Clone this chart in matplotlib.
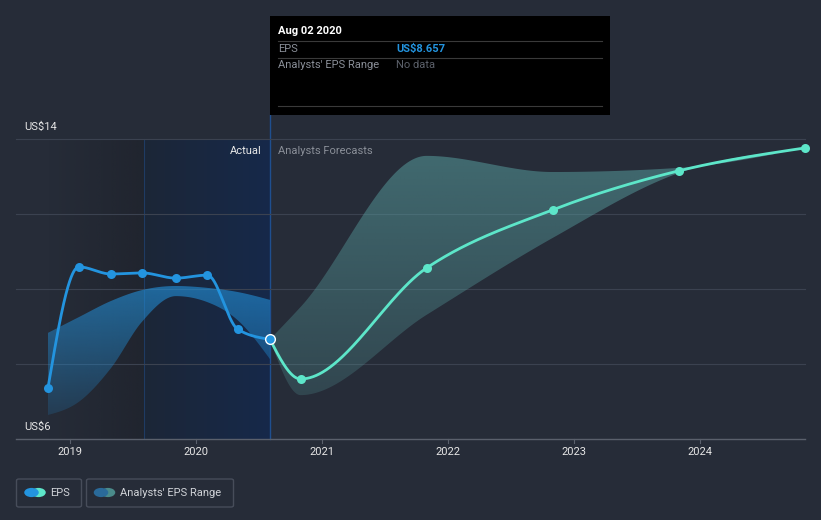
import numpy as np
import matplotlib
matplotlib.use("Agg")
import matplotlib.pyplot as plt
from matplotlib.patches import Rectangle, FancyBboxPatch, Circle
from matplotlib.colors import to_rgb

plt.rcParams['font.family'] = ['Roboto', 'DejaVu Sans']

# ---------------- data ----------------
actual_x = [2018.825, 2019.07, 2019.325, 2019.57, 2019.84, 2020.09, 2020.33, 2020.587]
actual_eps = [7.36, 10.59, 10.40, 10.43, 10.29, 10.37, 8.93, 8.657]
actual_low = [6.64, 6.99, 7.89, 9.12, 9.81, 9.65, 9.17, 8.13]
actual_high = [8.83, 9.25, 9.68, 9.97, 10.08, 10.03, 9.92, 9.71]

fc_x = [2020.587, 2020.83, 2021.83, 2022.83, 2023.83, 2024.83]
fc_eps = [8.657, 7.60, 10.56, 12.11, 13.15, 13.76]
fc_low = [8.657, 7.17, 9.31, 11.36, 13.09, 13.76]
fc_high = [8.657, 9.52, 13.55, 13.12, 13.23, 13.76]

year_ticks = [2019, 2020, 2021, 2022, 2023, 2024]
y_grid = [6, 8, 10, 12, 14]
y_labels = {14: "US$14", 6: "US$6"}

# ---------------- colours ----------------
BG = '#262c38'
BLUE = '#2394df'
TEAL = '#5de6c9'
GRID = '#3b4250'

W, H = 821, 520
fig = plt.figure(figsize=(W / 100, H / 100), dpi=100, facecolor=BG)
ax = fig.add_axes([0, 0, 1, 1])
ax.set_facecolor(BG)
ax.axis('off')

def px2x(px):
    return 2019 + (px - 70) / 126.0

def py2y(py):
    return 14 - (py - 139) / 37.5

ax.set_xlim(px2x(0), px2x(W))
ax.set_ylim(py2y(H), py2y(0))

def fx(px):
    return px / W

def fy(py):
    return 1 - py / H

def monotone(x, y, n=200):
    x = np.asarray(x, float); y = np.asarray(y, float)
    h = np.diff(x); d = np.diff(y) / h
    m = np.zeros(len(x))
    for k in range(1, len(x) - 1):
        if d[k - 1] * d[k] <= 0:
            m[k] = 0
        else:
            s = (d[k - 1] * h[k] + d[k] * h[k - 1]) / (h[k - 1] + h[k])
            m[k] = (np.sign(d[k - 1]) + np.sign(d[k])) * min(abs(d[k - 1]), abs(d[k]), 0.5 * abs(s))
    m[0] = (3 * d[0] - m[1]) / 2 if len(x) > 2 else d[0]
    m[-1] = (3 * d[-1] - m[-2]) / 2 if len(x) > 2 else d[-1]
    xs, ys = [], []
    for k in range(len(x) - 1):
        t = np.linspace(0, 1, n, endpoint=(k == len(x) - 2))
        h00 = 2 * t**3 - 3 * t**2 + 1
        h10 = t**3 - 2 * t**2 + t
        h01 = -2 * t**3 + 3 * t**2
        h11 = t**3 - t**2
        xs.append(x[k] + t * h[k])
        ys.append(h00 * y[k] + h10 * h[k] * m[k] + h01 * y[k + 1] + h11 * h[k] * m[k + 1])
    return np.concatenate(xs), np.concatenate(ys)

top_y = 14
bot_y = 6
last_x = actual_x[-1]
year_before = last_x - 1.0

# ---------------- background shading ----------------
grad = np.zeros((2, 256, 4))
dark = to_rgb('#1c1f27')
grad[..., 0] = dark[0]; grad[..., 1] = dark[1]; grad[..., 2] = dark[2]
grad[..., 3] = np.linspace(0.0, 0.55, 256)[None, :]
ax.imshow(grad, extent=[actual_x[0], year_before, bot_y, top_y], aspect='auto',
          interpolation='bilinear', zorder=0.5)
c1 = np.array(to_rgb('#1c2637')); c2 = np.array(to_rgb('#16294a'))
t = np.linspace(0, 1, 256)[:, None]
cols = c1 * (1 - t) + c2 * t
bimg = np.ones((2, 256, 4))
bimg[..., :3] = cols[None, :, :]
ax.imshow(bimg, extent=[year_before, last_x, bot_y, top_y], aspect='auto',
          interpolation='bilinear', zorder=0.6)
ax.plot([year_before, year_before], [bot_y, top_y], color='#1f3b63', lw=0.8, zorder=0.7)
ax.plot([last_x, last_x], [bot_y, py2y(115)], color='#1f4f8f', lw=1.0, zorder=0.7)

# ---------------- grid ----------------
gx0, gx1 = px2x(16), px2x(805)
for g in y_grid[1:]:
    ax.plot([gx0, gx1], [g, g], color=GRID, lw=0.8, zorder=1)
ax.plot([gx0, gx1], [6, 6], color='#5a606c', lw=1.0, zorder=1)
for yr in year_ticks:
    ax.plot([yr, yr], [6, py2y(443)], color='#5a606c', lw=0.8, zorder=1)
    ax.text(yr, py2y(452), str(yr), color='#e6e6e6', fontsize=8, ha='center', va='center')
for v, s in y_labels.items():
    ax.text(px2x(24), v + 12 / 37.5, s, color='#e6e6e6', fontsize=8, ha='left', va='center')

# ---------------- gradient bands ----------------
def grad_band(xs, lo, hi, rgb, a_top, a_bot, ytop, ybot, z):
    bx, blo = monotone(xs, lo)
    _, bhi = monotone(xs, hi)
    poly = ax.fill_between(bx, blo, bhi, color='none', lw=0, zorder=z)
    img = np.zeros((256, 2, 4))
    c = to_rgb(rgb)
    img[..., 0] = c[0]; img[..., 1] = c[1]; img[..., 2] = c[2]
    img[..., 3] = np.linspace(a_top, a_bot, 256)[:, None]
    im = ax.imshow(img, extent=[min(xs), max(xs), ybot, ytop], aspect='auto',
                   interpolation='bilinear', zorder=z, origin='upper')
    im.set_clip_path(poly.get_paths()[0], transform=ax.transData)

grad_band(actual_x, actual_low, actual_high, BLUE, 0.62, 0.15, 10.2, 6.5, 2)
grad_band(fc_x, fc_low, fc_high, '#5aa3a3', 0.52, 0.22, 13.6, 7.1, 2)

# ---------------- EPS lines ----------------
lx, ly = monotone(actual_x, actual_eps)
ax.plot(lx, ly, color=BLUE, lw=2.0, zorder=3, solid_capstyle='round')
ax.plot(actual_x[:-1], actual_eps[:-1], 'o', color=BLUE, ms=6.5, zorder=4, mec='none')
fx_, fy_ = monotone(fc_x, fc_eps)
ax.plot(fx_, fy_, color=TEAL, lw=2.0, zorder=3, solid_capstyle='round')
ax.plot(fc_x[1:], fc_eps[1:], 'o', color=TEAL, ms=6.5, zorder=4, mec='none')
ax.plot([actual_x[-1]], [actual_eps[-1]], 'o', color=BLUE, ms=7, mec='white', mew=1.0, zorder=5)

# ---------------- labels ----------------
ax.text(px2x(262), py2y(151), 'Actual', color='#e8e8e8', fontsize=8, ha='right', va='center')
ax.text(px2x(278), py2y(151), 'Analysts Forecasts', color='#8a8f98', fontsize=8, ha='left', va='center')

# ---------------- tooltip ----------------
fig.patches.append(Rectangle((fx(270), fy(115)), fx(340), 99 / H, transform=fig.transFigure,
                             facecolor='black', edgecolor='none', zorder=10))
for sy in [40.5, 57.5, 106.5]:
    fig.add_artist(plt.Line2D([fx(278), fx(602)], [fy(sy), fy(sy)], transform=fig.transFigure,
                              color='#3a3a3a', lw=0.8, zorder=11))
fig.text(fx(278), fy(31), 'Aug 02 2020', color='white', fontsize=8, fontweight='bold',
         ha='left', va='center', zorder=12)
fig.text(fx(278), fy(48.5), 'EPS', color='#8a8f98', fontsize=8, ha='left', va='center', zorder=12)
fig.text(fx(396), fy(48.5), 'US$8.657', color=BLUE, fontsize=8, fontweight='bold',
         ha='left', va='center', zorder=12)
fig.text(fx(278), fy(65.5), "Analysts' EPS Range", color='#8a8f98', fontsize=8,
         ha='left', va='center', zorder=12)
fig.text(fx(396), fy(65.5), 'No data', color='#5c616b', fontsize=8, ha='left', va='center', zorder=12)

# ---------------- legend ----------------
def legend_box(x0, x1, y0, y1):
    fig.patches.append(FancyBboxPatch((fx(x0), fy(y1)), fx(x1 - x0), (y1 - y0) / H,
                                      boxstyle='round,pad=0,rounding_size=0.003',
                                      transform=fig.transFigure, facecolor='none',
                                      edgecolor='#474d5a', lw=1.0))

legend_box(16.5, 81.5, 479, 507)
legend_box(86.5, 233.5, 479, 507)
for cx, col in [(38.5, TEAL), (31.5, BLUE)]:
    fig.patches.append(Circle((fx(cx), fy(492.5)), 4.6 / H, transform=fig.transFigure,
                              facecolor=col, edgecolor='none'))
for cx, col in [(108, '#4a8b8b'), (101, '#2a6a9a')]:
    fig.patches.append(Circle((fx(cx), fy(492.5)), 4.6 / H, transform=fig.transFigure,
                              facecolor=col, edgecolor='none'))
fig.text(fx(50), fy(492.5), 'EPS', color='#d0d3d8', fontsize=8, ha='left', va='center')
fig.text(fx(120), fy(492.5), "Analysts' EPS Range", color='#d0d3d8', fontsize=8, ha='left', va='center')

fig.savefig('out.png', dpi=100, facecolor=BG)
